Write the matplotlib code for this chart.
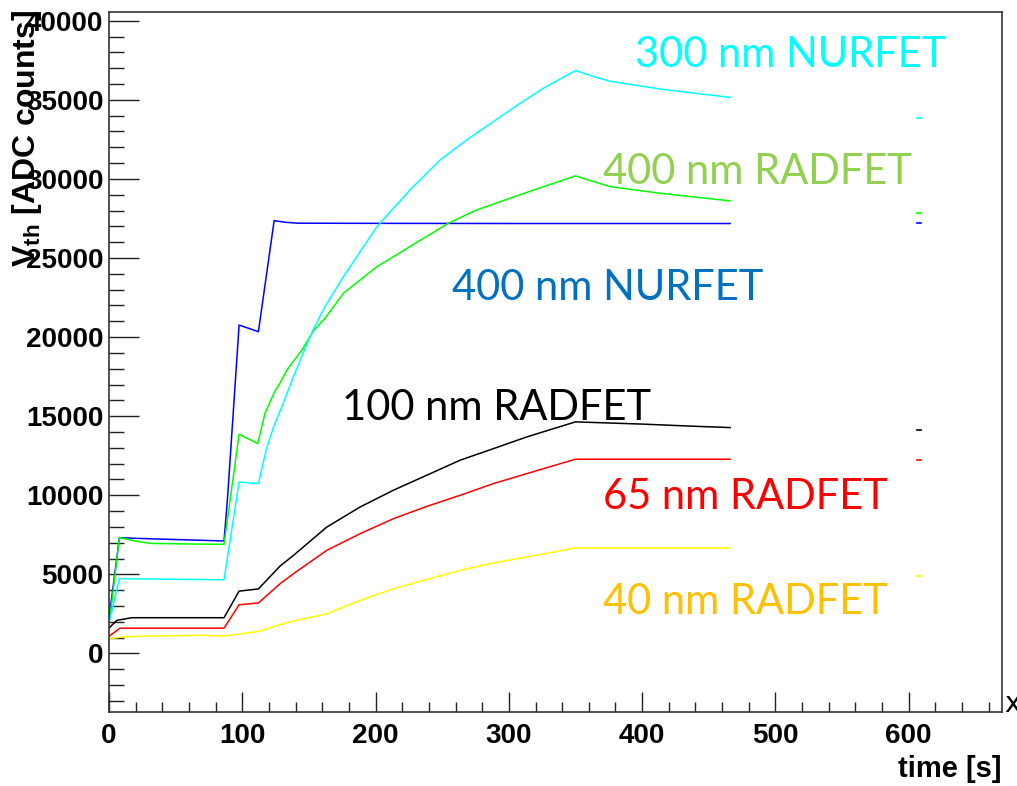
import numpy as np
import matplotlib
matplotlib.use("Agg")
import matplotlib.pyplot as plt
from matplotlib.ticker import MultipleLocator

# time axis [s] and threshold voltage readings [ADC counts]
t_blue = [0, 0.8, 7.8, 30, 60, 86.3, 89, 97.6, 112.1, 123.9, 132, 141.7, 200, 300, 400, 466]
v_blue = [2300, 2720, 7320, 7250, 7180, 7110, 9900, 20760, 20340, 27360, 27260, 27200, 27190,
          27180, 27180, 27180]

t_green = [0, 0.8, 7.8, 20, 31, 60, 86.3, 97.6, 111.6, 117, 124, 129.6, 133.4, 144.7, 153.4, 162,
           175.9, 201, 225.8, 254.7, 276, 301, 326, 350, 363.6, 376, 413.7, 466]
v_green = [2100, 2300, 7330, 7100, 6960, 6920, 6900, 13860, 13270, 15170, 16500, 17280, 17910,
           19180, 20400, 21180, 22770, 24450, 25720, 27200, 28040, 28780, 29510, 30190, 29830,
           29510, 29090, 28610]

t_cyan = [0, 0.8, 7.8, 50, 86.3, 97.6, 112.1, 118, 123.4, 129.6, 138.4, 147.1, 153.4, 162, 175.9,
          201, 225.8, 248.5, 268.5, 288.5, 308.6, 326, 350, 363.6, 376, 413.7, 466]
v_cyan = [2000, 2200, 4730, 4690, 4660, 10840, 10740, 12900, 14300, 15590, 17490, 19280, 20500,
          21920, 23820, 26980, 29300, 31200, 32470, 33630, 34790, 35740, 36850, 36470, 36170,
          35680, 35150]

t_black = [0, 0.8, 5.8, 17, 50, 86.3, 97.6, 112.1, 128.4, 138.4, 163.4, 188.4, 213.4, 238.5,
           263.5, 288.5, 313.5, 350, 400, 440, 466]
v_black = [1600, 1670, 2090, 2260, 2260, 2260, 3940, 4080, 5530, 6200, 7990, 9260, 10320, 11270,
           12220, 12950, 13690, 14640, 14500, 14360, 14280]

t_red = [0, 0.8, 8.3, 50, 86.3, 97.6, 112.1, 128.4, 138.4, 163.4, 188.4, 213.4, 238.5, 263.5,
         288.5, 313.5, 350, 400, 466]
v_red = [1100, 1140, 1600, 1600, 1600, 3080, 3190, 4410, 5040, 6520, 7570, 8520, 9300, 10000,
         10740, 11370, 12280, 12280, 12280]

t_yellow = [0, 0.8, 10, 30, 50, 70, 86.3, 100, 113.4, 128.4, 138.4, 163.4, 188.4, 213.4, 238.5,
            263.5, 288.5, 313.5, 350, 400, 466]
v_yellow = [900, 930, 1050, 1100, 1120, 1150, 1100, 1250, 1410, 1830, 2050, 2510, 3350, 4090,
            4680, 5250, 5720, 6100, 6670, 6670, 6670]

# lone readings near t = 607 s
t_tail = [606.5, 609.5]
tail_values = {"#00FFFF": 33860, "#00FF00": 27850, "#0000FF": 27200,
               "#000000": 14100, "#FF0000": 12200, "#FFFF00": 4870}

labels = ["300 nm NURFET", "400 nm RADFET", "400 nm NURFET", "100 nm RADFET", "65 nm RADFET", "40 nm RADFET"]
label_colors = ["#00FFFF", "#92D050", "#0070C0", "#000000", "#FF0000", "#FFC000"]
label_x = [395, 371, 257.5, 175, 371, 371]
label_y = [37850, 30440, 23100, 15500, 9870, 3230]

tick_font = ["Liberation Sans", "DejaVu Sans"]
plt.rcParams["mathtext.fontset"] = "custom"
plt.rcParams["mathtext.bf"] = "Liberation Sans:bold"
plt.rcParams["mathtext.rm"] = "Liberation Sans:bold"
plt.rcParams["mathtext.it"] = "Liberation Sans:bold"

fig = plt.figure(figsize=(10.17, 7.86), dpi=100)
ax = fig.add_axes([109 / 1017, 1 - 712 / 786, (1002 - 109) / 1017, (712 - 12) / 786])

lw = 1.1
ax.plot(t_blue, v_blue, color="#0000FF", lw=lw)
ax.plot(t_green, v_green, color="#00FF00", lw=lw)
ax.plot(t_cyan, v_cyan, color="#00FFFF", lw=lw)
ax.plot(t_black, v_black, color="#000000", lw=lw)
ax.plot(t_red, v_red, color="#FF0000", lw=lw)
ax.plot(t_yellow, v_yellow, color="#FFFF00", lw=lw)

for c, v in tail_values.items():
    ax.plot(t_tail, [v, v], color=c, lw=1.2)

ax.set_xlim(0, 670)
ax.set_ylim(-3700, 40550)

ax.xaxis.set_major_locator(MultipleLocator(100))
ax.xaxis.set_minor_locator(MultipleLocator(20))
ax.yaxis.set_major_locator(MultipleLocator(5000))
ax.yaxis.set_minor_locator(MultipleLocator(1000))

ax.tick_params(axis="x", which="major", direction="in", length=14.4, width=1.0, pad=8)
ax.tick_params(axis="x", which="minor", direction="in", length=7.2, width=1.0)
ax.tick_params(axis="y", which="major", direction="in", length=21.6, width=1.0, pad=4)
ax.tick_params(axis="y", which="minor", direction="in", length=10.8, width=1.0)
ax.tick_params(top=False, right=False, which="both", colors="#222222", labelcolor="black")

for sp in ax.spines.values():
    sp.set_linewidth(1.2)
    sp.set_color("#333333")

for lab in ax.get_xticklabels() + ax.get_yticklabels():
    lab.set_family(tick_font)
    lab.set_fontweight("bold")
    lab.set_fontsize(20)

for text, col, x, y in zip(labels, label_colors, label_x, label_y):
    ax.text(x, y, text, color=col, family=["Lato", "DejaVu Sans"], fontsize=30,
            ha="left", va="center")

fig.text(1002 / 1017, 1 - 783 / 786, "time [s]", family=tick_font, fontweight="bold",
         fontsize=21, ha="right", va="bottom")
fig.text(27 / 1017, 1 - 10 / 786, r"$\mathbf{V_{th}}$ [ADC counts]", family=tick_font,
         fontweight="bold", fontsize=23, rotation=90, ha="center", va="top")
fig.text(1004 / 1017, 1 - 704 / 786, "x", family=["DejaVu Sans"], fontsize=20,
         ha="left", va="center")

fig.savefig("out.png", dpi=100)
